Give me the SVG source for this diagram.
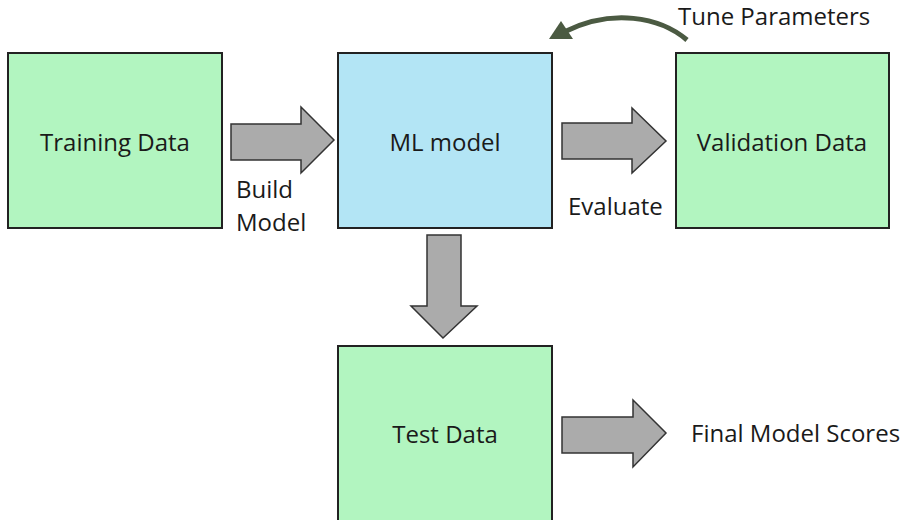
<svg xmlns="http://www.w3.org/2000/svg" width="913" height="520" viewBox="0 0 913 520">
<style>
.box{stroke:#222;stroke-width:2}
.green{fill:#b2f5c0}
.blue{fill:#b3e5f5}
.arr{fill:#ababab;stroke:#333;stroke-width:1.5;stroke-linejoin:miter}
text{font-family:"Open Sans","Noto Sans",sans-serif;font-size:24px;fill:#1a1a1a}
.c{text-anchor:middle}
</style>
<rect width="913" height="520" fill="#fff"/>
<g id="training"><rect class="box green" x="8" y="53" width="214" height="175"/><text class="c" x="115" y="151">Training Data</text></g>
<g id="mlmodel"><rect class="box blue" x="338" y="53" width="214" height="175"/><text class="c" x="445" y="151">ML model</text></g>
<g id="validation"><rect class="box green" x="676" y="53" width="213" height="175"/><text class="c" x="782" y="151">Validation Data</text></g>
<g id="test"><rect class="box green" x="338" y="346" width="214" height="180"/><text class="c" x="445" y="443">Test Data</text></g>
<g id="connectors">
<polygon class="arr" points="231,124 301,124 301,107 334,140 301,173 301,160 231,160"/>
<polygon class="arr" points="562,123 632,123 632,108 666,141 632,173 632,159 562,159"/>
<polygon class="arr" points="427,235 461,235 461,306 477,306 443,338 411,306 427,306"/>
<polygon class="arr" points="562,417 633,417 633,400 666,433 633,467 633,453 562,453"/>
<path d="M687,40 C660,17 612,8 564,32" fill="none" stroke="#4b5a42" stroke-width="5"/>
<polygon points="549,39 561,21 573,39" fill="#4b5a42"/>
</g>
<g id="labels">
<text x="236" y="198">Build</text>
<text x="236" y="231">Model</text>
<text x="568" y="215">Evaluate</text>
<text x="678" y="25">Tune Parameters</text>
<text x="691" y="442">Final Model Scores</text>
</g>
</svg>
